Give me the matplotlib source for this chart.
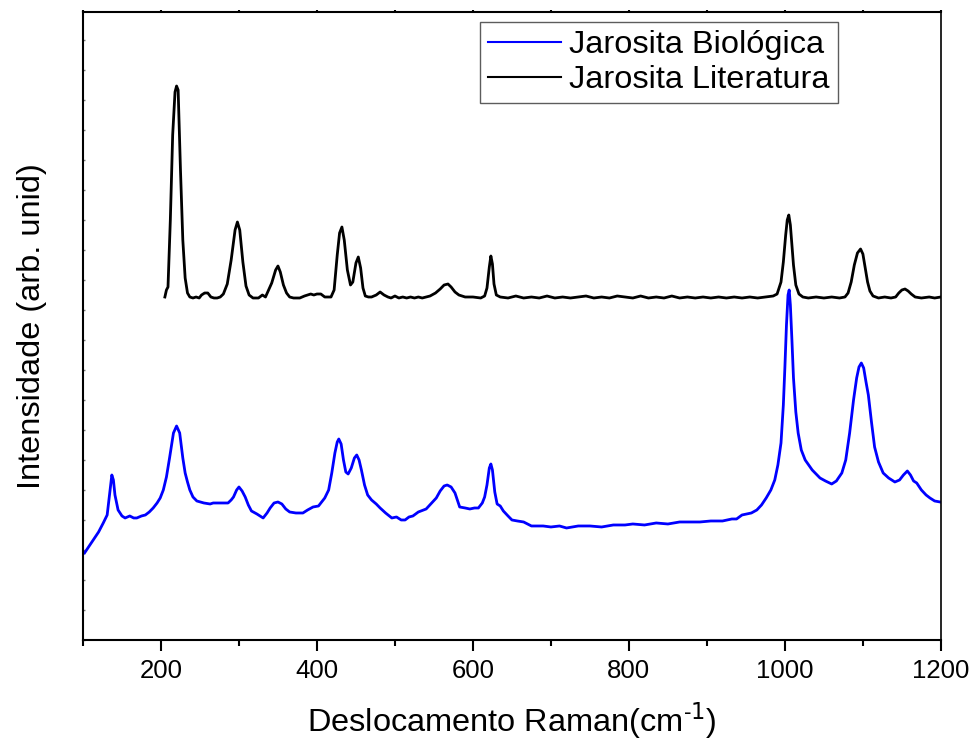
import matplotlib
matplotlib.use("Agg")
import matplotlib.pyplot as plt
from matplotlib.ticker import MultipleLocator

plt.rcParams['font.family'] = ['Liberation Sans', 'DejaVu Sans']

# Jarosita Biologica (blue) - shift (cm-1), intensity (arb.)
bio_x = [102, 108, 113, 120, 126, 131, 134, 137, 139, 141, 145, 150, 154, 160, 165, 169, 175, 180, 185, 190,
         195, 199, 203, 207, 211, 216, 220, 224, 228, 231, 234, 237, 241, 246, 255, 263, 267, 271, 279, 286,
         290, 293, 297, 300, 304, 308, 312, 316, 323, 331, 336, 340, 345, 350, 355, 360, 365, 373, 382, 388,
         395, 402, 410, 415, 419, 423, 426, 428, 431, 434, 437, 440, 444, 448, 451, 454, 457, 461, 465, 470,
         476, 481, 488, 496, 502, 508, 513, 518, 523, 530, 540, 547, 553, 558, 563, 567, 572, 577, 583, 590,
         596, 602, 607, 612, 615, 618, 621, 623, 625, 628, 631, 635, 639, 645, 650, 657, 665, 675, 690, 700,
         711, 720, 735, 750, 765, 780, 795, 805, 820, 835, 850, 865, 880, 891, 905, 920, 932, 938, 945, 951,
         957, 964, 970, 976, 982, 987, 991, 995, 998, 1000, 1002, 1004, 1005.5, 1007, 1009, 1011, 1014, 1017,
         1021, 1026, 1035, 1045, 1052, 1060, 1066, 1073, 1078, 1083, 1088, 1092, 1095, 1098, 1101, 1104, 1107,
         1111, 1115, 1120, 1126, 1133, 1141, 1147, 1152, 1157, 1161, 1165, 1169, 1175, 1181, 1186, 1192, 1199]
bio_y = [87, 94, 100, 108, 117, 125, 145, 165, 160, 145, 130, 124, 122, 124, 122, 122, 124, 125, 128, 132,
         137, 142, 150, 163, 182, 207, 214, 207, 182, 167, 158, 150, 143, 139, 137, 136, 137, 137, 137, 137,
         140, 143, 150, 153, 149, 143, 135, 129, 126, 122, 127, 132, 137, 138, 136, 131, 128, 127, 127, 130,
         133, 134, 142, 150, 167, 187, 198, 201, 196, 180, 168, 166, 172, 182, 185, 180, 170, 155, 145, 140,
         136, 132, 127, 122, 123, 120, 120, 123, 124, 128, 131, 137, 142, 149, 154, 155, 153, 147, 133, 132,
         131, 132, 132, 137, 143, 155, 172, 176, 170, 148, 136, 134, 129, 124, 120, 119, 118, 114, 114, 113,
         114, 112, 114, 114, 113, 115, 115, 116, 115, 117, 116, 118, 118, 118, 119, 119, 121, 121, 125, 126,
         127, 130, 135, 142, 150, 160, 175, 197, 235, 273, 315, 345, 350, 335, 300, 262, 228, 207,
         190, 180, 170, 162, 159, 156, 159, 167, 180, 207, 240, 262, 273, 277, 272, 258, 245,
         218, 193, 178, 167, 162, 158, 160, 165, 169, 165, 159, 157, 150, 145, 142, 139, 138]

# Jarosita Literatura (black)
lit_x = [205, 207, 209, 212, 215, 218, 220, 222, 225, 228, 231, 234, 237, 241, 245, 249, 252, 256, 260, 264,
         268, 272, 276, 280, 285, 290, 295, 298, 301, 305, 309, 313, 318, 325, 330, 334, 338, 342, 347, 350,
         353, 357, 361, 365, 370, 378, 384, 388, 392, 396, 400, 405, 410, 418, 422, 426, 429, 432, 435, 439,
         443, 446, 450, 453, 456, 459, 462, 466, 470, 476, 481, 486, 491, 495, 500, 505, 510, 515, 520, 525,
         530, 535, 540, 545, 552, 558, 563, 568, 572, 577, 582, 590, 600, 610, 615, 618, 621, 623, 625, 627,
         630, 635, 645, 655, 665, 675, 685, 695, 705, 715, 725, 735, 745, 755, 765, 775, 785, 795, 805, 815,
         825, 835, 845, 855, 865, 875, 885, 895, 905, 915, 925, 935, 945, 955, 965, 975, 985, 990, 995, 998,
         1001, 1003, 1005, 1007, 1009, 1011, 1014, 1018, 1023, 1030, 1040, 1050, 1060, 1070, 1077, 1081, 1085,
         1089, 1093, 1097, 1100, 1103, 1106, 1109, 1113, 1120, 1128, 1136, 1142, 1146, 1150, 1154, 1158, 1162,
         1167, 1175, 1185, 1192, 1200]
lit_y = [343, 350, 353, 420, 505, 548, 554, 550, 470, 400, 362, 347, 343, 342, 343, 342, 345, 347, 347, 343,
         342, 342, 343, 346, 356, 380, 410, 418, 410, 378, 354, 345, 342, 342, 345, 343, 350, 357, 370, 374,
         368, 355, 347, 343, 342, 342, 344, 345, 346, 345, 346, 346, 343, 343, 350, 385, 407, 413, 400, 370,
         355, 358, 377, 383, 372, 352, 344, 343, 343, 345, 348, 345, 343, 342, 344, 342, 343, 342, 343, 342,
         343, 342, 343, 344, 347, 351, 355, 356, 353, 348, 345, 343, 343, 342, 344, 352, 373, 384, 376, 356,
         345, 343, 342, 344, 342, 343, 342, 344, 342, 343, 342, 343, 344, 342, 343, 342, 344, 343, 342, 344,
         342, 343, 342, 344, 342, 343, 342, 343, 342, 343, 342, 343, 342, 343, 342, 343, 344, 346, 358, 378,
         405, 420, 425, 415, 395, 375, 355, 346, 343, 342, 343, 342, 343, 342, 343, 347, 358,
         375, 387, 391, 386, 372, 358, 349, 344, 342, 343, 342, 343, 347, 350, 351, 349, 346,
         343, 342, 343, 342, 343]

fig = plt.figure(figsize=(9.74, 7.42), dpi=100)
ax = fig.add_axes([0.0852, 0.1375, 0.8808, 0.8463])

ax.plot(bio_x, bio_y, color='#0000FF', lw=2, label='Jarosita Biológica')
ax.plot(lit_x, lit_y, color='black', lw=2, label='Jarosita Literatura')

ax.set_xlim(100, 1200)
ax.set_ylim(0, 628)

ax.xaxis.set_major_locator(MultipleLocator(200))
ax.xaxis.set_minor_locator(MultipleLocator(100))
ax.yaxis.set_major_locator(MultipleLocator(30))
ax.tick_params(axis='x', which='major', direction='out', length=8, width=1.5, labelsize=18.5, pad=6,
               top=True)
ax.tick_params(axis='x', which='minor', direction='out', length=4.5, width=1.5, top=True)
ax.tick_params(axis='x', which='both', labeltop=False)
ax.tick_params(axis='y', which='major', direction='in', length=1.5, width=1, color='#777777', labelleft=False)
for s in ax.spines.values():
    s.set_linewidth(1.5)
ax.spines['right'].set_linewidth(1.2)
# top ticks are barely visible in the reference
for t in ax.xaxis.get_major_ticks() + ax.xaxis.get_minor_ticks():
    t.tick2line.set_markersize(1.5)
    t.tick2line.set_color('#888888')

ax.set_xlabel('Deslocamento Raman(cm$^{\\mathregular{\u2010}1}$)', fontsize=23.4, labelpad=12)
ax.set_ylabel('Intensidade (arb. unid)', fontsize=23.4, labelpad=26)

leg = ax.legend(loc='upper right', bbox_to_anchor=(838 / 974, 1 - 22 / 742), bbox_transform=fig.transFigure,
                fontsize=23.4, frameon=True, fancybox=False, borderaxespad=0, borderpad=0.25,
                handlelength=2.25, handletextpad=0.25, labelspacing=0.15)
leg.get_frame().set_edgecolor('#333333')
leg.get_frame().set_linewidth(1)
for line in leg.get_lines():
    line.set_linewidth(1.5)

fig.savefig('out.png', dpi=100)
